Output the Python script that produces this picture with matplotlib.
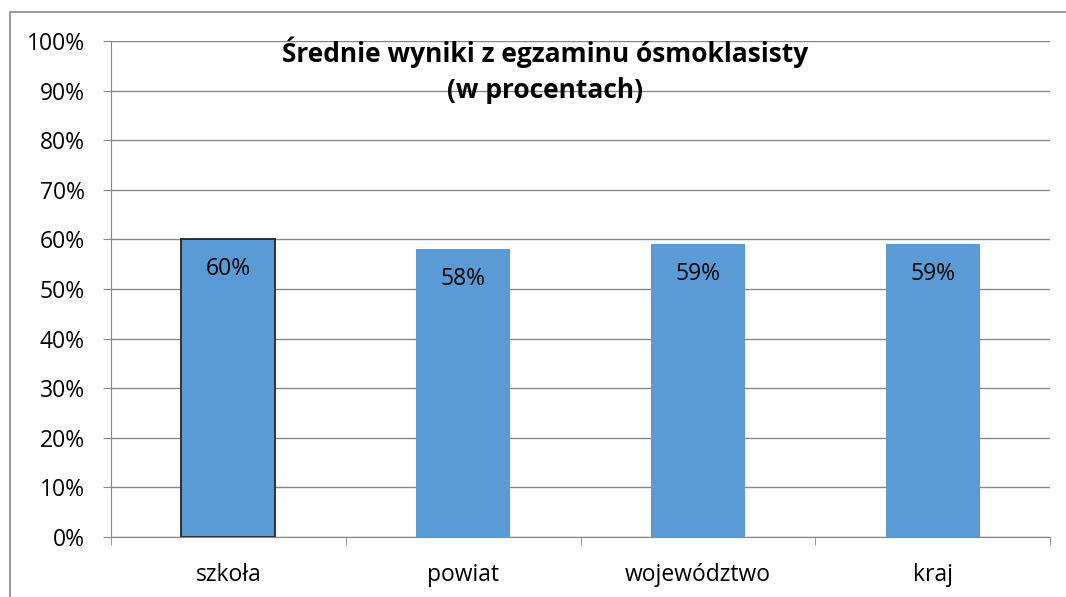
import matplotlib.pyplot as plt
import numpy as np
from matplotlib.patches import Rectangle

# dane z wykresu
kategorie = ["szkoła", "powiat", "województwo", "kraj"]
wyniki = [60, 58, 59, 59]
ticki_y = [0, 10, 20, 30, 40, 50, 60, 70, 80, 90, 100]

plt.rcParams['font.family'] = ['Open Sans', 'DejaVu Sans']

fig = plt.figure(figsize=(10.66, 5.97), dpi=100)
ax = fig.add_axes([111 / 1066, 60 / 597, 939 / 1066, 496 / 597])

# ramka wykresu (ucięta z prawej i z dołu)
fig.patches.append(Rectangle((10 / 1066, -0.1), 1.2, (597 - 12) / 597 + 0.1,
                             transform=fig.transFigure, fill=False,
                             edgecolor='#868686', linewidth=1.2))

x = np.arange(len(kategorie))
kolory_krawedzi = ['#262626', 'none', 'none', 'none']
bars = ax.bar(x, wyniki, width=0.4, color='#5B9BD5',
              edgecolor=kolory_krawedzi, linewidth=1.3, zorder=3)

for xi, w in zip(x, wyniki):
    ax.text(xi, w - 6, f"{w}%", ha='center', va='center', fontsize=16.5,
            color='black', zorder=4)

ax.set_xlim(-0.5, len(kategorie) - 0.5)
ax.set_ylim(0, 100)
ax.set_yticks(ticki_y)
ax.set_yticklabels([f"{t}%" for t in ticki_y], fontsize=16.5)
ax.yaxis.grid(True, color='#868686', linewidth=1)
ax.set_axisbelow(True)

ax.set_xticks(x)
ax.set_xticklabels(kategorie, fontsize=16.5)
ax.tick_params(axis='x', length=0, pad=19)
ax.set_xticks(np.arange(len(kategorie) + 1) - 0.5, minor=True)
ax.tick_params(axis='x', which='minor', length=6, color='#868686')
ax.tick_params(axis='y', length=6, color='#868686', pad=13)

for s in ['top', 'right']:
    ax.spines[s].set_visible(False)
for s in ['left', 'bottom']:
    ax.spines[s].set_color('#868686')

ax.text(0.462, 1.01, "Średnie wyniki z egzaminu ósmoklasisty\n(w procentach)",
        transform=ax.transAxes, ha='center', va='top', fontsize=19,
        fontweight='bold', linespacing=1.45)

fig.savefig("out.png", dpi=100)
